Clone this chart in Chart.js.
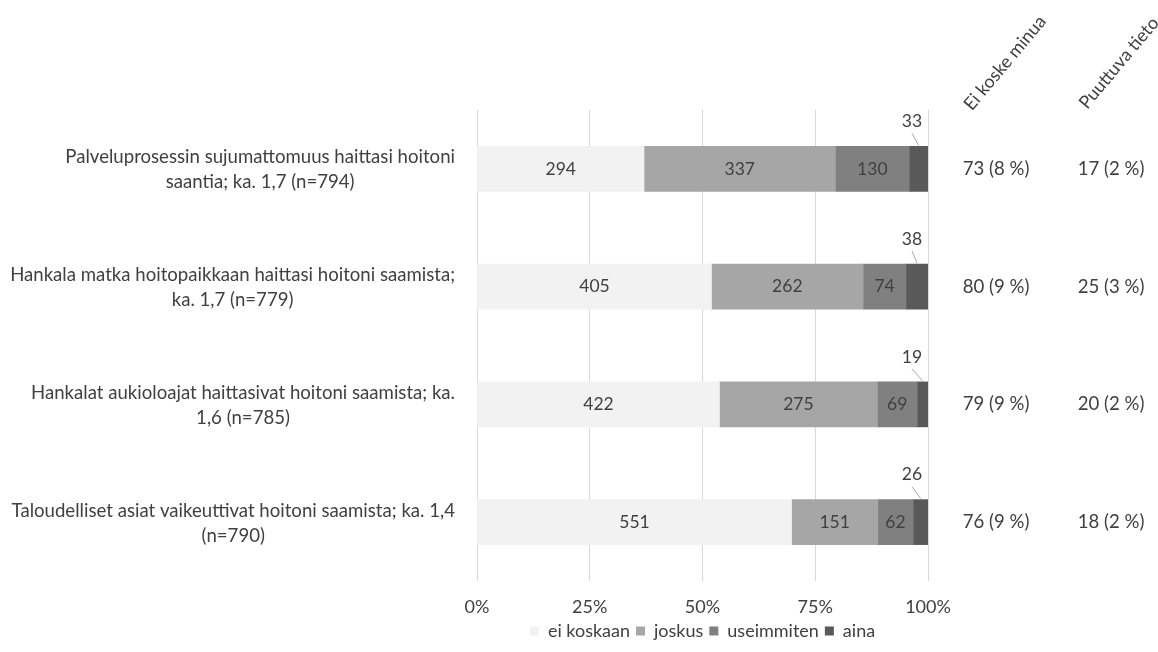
<!DOCTYPE html>
<html><head><meta charset="utf-8">
<script src="https://cdn.jsdelivr.net/npm/chart.js@4/dist/chart.umd.min.js"></script>
<style>html,body{margin:0;padding:0;background:#fff}</style>
</head><body>
<canvas id="c" width="1158" height="652"></canvas>
<script>
const categories = [
  ["Palveluprosessin sujumattomuus haittasi hoitoni", "saantia; ka. 1,7 (n=794)"],
  ["Hankala matka hoitopaikkaan haittasi hoitoni saamista;", "ka. 1,7 (n=779)"],
  ["Hankalat aukioloajat haittasivat hoitoni saamista; ka.", "1,6 (n=785)"],
  ["Taloudelliset asiat vaikeuttivat hoitoni saamista; ka. 1,4", "(n=790)"]
];
const seriesNames = ["ei koskaan", "joskus", "useimmiten", "aina"];
const eiKoskaan = [294, 405, 422, 551];
const joskus = [337, 262, 275, 151];
const useimmiten = [130, 74, 69, 62];
const aina = [33, 38, 19, 26];
const eiKoskeMinua = ["73 (8 %)", "80 (9 %)", "79 (9 %)", "76 (9 %)"];
const puuttuvaTieto = ["17 (2 %)", "25 (3 %)", "20 (2 %)", "18 (2 %)"];
const extraHeaders = ["Ei koske minua", "Puuttuva tieto"];
const xTickLabels = ["0%", "25%", "50%", "75%", "100%"];

const colors = ["#F2F2F2", "#A6A6A6", "#808080", "#595959"];
const FONT = "Lato";
const TXT = "#404040";
const counts = [eiKoskaan, joskus, useimmiten, aina];
const totals = categories.map((_, i) => counts.reduce((s, a) => s + a[i], 0));

const datasets = counts.map((arr, k) => ({
  label: seriesNames[k],
  data: arr.map((v, i) => v / totals[i] * 100),
  counts: arr,
  backgroundColor: colors[k],
  borderWidth: 0,
  barThickness: 45
}));

const drawPlugin = {
  id: 'extras',
  afterDatasetsDraw(chart) {
    const ctx = chart.ctx;
    const ys = chart.scales.y;
    const ca = chart.chartArea;
    ctx.save();
    ctx.fillStyle = TXT;
    ctx.textBaseline = "middle";
    ctx.textAlign = "center";
    // category labels
    ctx.font = "18.6px " + FONT;
    categories.forEach((lines, i) => {
      const yc = ys.getPixelForValue(i);
      const w = Math.max(...lines.map(l => ctx.measureText(l).width));
      const cx = 455 - w / 2;
      const lh = 25;
      lines.forEach((l, j) => {
        ctx.fillText(l, cx, yc + (j - (lines.length - 1) / 2) * lh + 1);
      });
    });
    // data labels
    ctx.font = "17.5px " + FONT;
    chart.data.datasets.forEach((ds, k) => {
      const meta = chart.getDatasetMeta(k);
      meta.data.forEach((bar, i) => {
        const txt = String(ds.counts[i]);
        const p = bar.getProps(['x', 'y', 'base', 'height'], true);
        const cx = (p.x + p.base) / 2;
        if (k === 3) {
          const top = p.y - p.height / 2;
          const lx = ca.right - 16;
          ctx.fillText(txt, lx, top - 25);
          ctx.strokeStyle = "#A6A6A6";
          ctx.lineWidth = 1;
          ctx.beginPath();
          ctx.moveTo(lx, top - 13);
          ctx.lineTo(cx, top - 1);
          ctx.stroke();
        } else {
          ctx.fillText(txt, cx, p.y);
        }
      });
    });
    // right columns
    ctx.font = "18.6px " + FONT;
    categories.forEach((_, i) => {
      const yc = ys.getPixelForValue(i);
      ctx.fillText(eiKoskeMinua[i], 996, yc);
      ctx.fillText(puuttuvaTieto[i], 1111, yc);
    });
    // rotated headers
    ctx.font = "18px " + FONT;
    [[1005, 63], [1119, 63]].forEach(([hx, hy], j) => {
      ctx.save();
      ctx.translate(hx, hy);
      ctx.rotate(-50 * Math.PI / 180);
      ctx.fillText(extraHeaders[j], 0, 0);
      ctx.restore();
    });
    ctx.restore();
  }
};

new Chart(document.getElementById('c'), {
  type: 'bar',
  data: { labels: categories.map(l => l.join(' ')), datasets },
  options: {
    responsive: false,
    animation: false,
    indexAxis: 'y',
    layout: { padding: { left: 477, right: 230, top: 110, bottom: 2 } },
    scales: {
      x: {
        stacked: true, min: 0, max: 100,
        ticks: {
          stepSize: 25, padding: 15, color: TXT,
          font: { family: FONT, size: 18 },
          callback: (v, idx) => xTickLabels[idx]
        },
        grid: { color: "#D9D9D9", drawTicks: false },
        border: { display: false },
        afterFit: s => { s.height = 35; }
      },
      y: {
        stacked: true, display: false
      }
    },
    plugins: {
      legend: {
        position: 'bottom',
        labels: {
          boxWidth: 9, boxHeight: 9, padding: 6, color: TXT,
          font: { family: FONT, size: 18 }
        }
      },
      tooltip: { enabled: false }
    }
  },
  plugins: [drawPlugin]
});
</script>
</body></html>
